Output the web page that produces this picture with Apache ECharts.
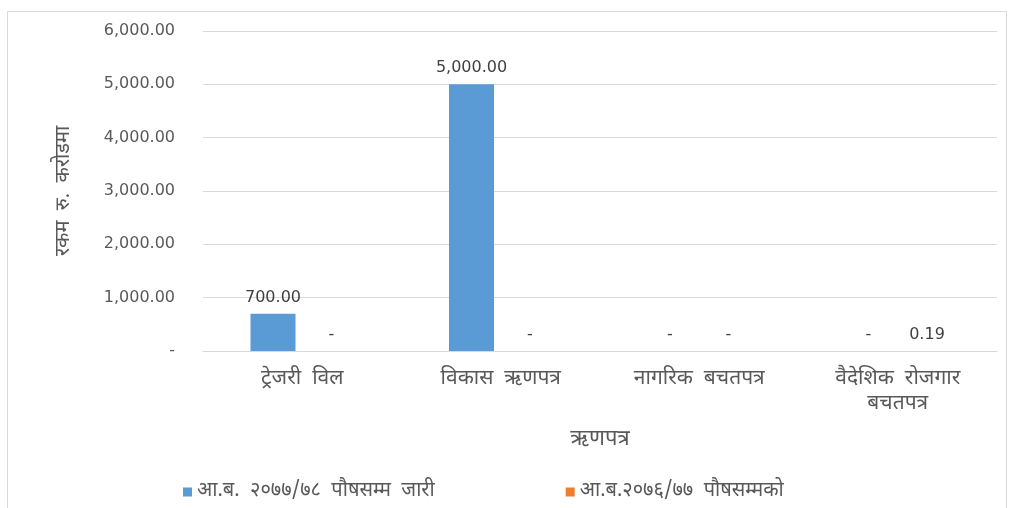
<!DOCTYPE html>
<html>
<head>
<meta charset="utf-8">
<script src="https://cdn.jsdelivr.net/npm/echarts@6/dist/echarts.min.js"></script>
<style>
html,body{margin:0;padding:0;background:#fff;}
#c{width:1010px;height:508px;}
</style>
</head>
<body>
<div id="c"></div>
<script>
const categories = ['ट्रेजरी  विल', 'विकास  ऋणपत्र', 'नागरिक  बचतपत्र', 'वैदेशिक  रोजगार\nबचतपत्र'];
const seriesNames = ['आ.ब.  २०७७/७८  पौषसम्म  जारी', 'आ.ब.२०७६/७७  पौषसम्मको'];
const issued7778 = [700, 5000, 0, 0];
const upto7677 = [0, 0, 0, 0.19];
const yTicks = [0, 1000, 2000, 3000, 4000, 5000, 6000];
const yAxisTitle = 'रकम  रु.  करोडमा';
const xAxisTitle = 'ऋणपत्र';

const fmt = v => v === 0 ? '-' : Number(v).toLocaleString('en-US', {minimumFractionDigits: 2, maximumFractionDigits: 2});
const numFont = '"DejaVu Sans", Verdana, sans-serif';
const devFont = '"Noto Sans Devanagari", "Noto Sans", "Lohit Devanagari", sans-serif';

const chart = echarts.init(document.getElementById('c'));
const labelCfg = {
  show: true, position: 'top', distance: 8, color: '#404040',
  fontFamily: numFont, fontSize: 16,
  formatter: p => fmt(p.value)
};
chart.setOption({
  animation: false,
  backgroundColor: '#fff',
  graphic: [{
    type: 'rect', shape: {x: 7.5, y: 11.5, width: 999, height: 520},
    style: {fill: 'none', stroke: '#d9d9d9', lineWidth: 1}, silent: true
  }],
  grid: {left: 203, right: 13, top: 31, bottom: 157},
  legend: {
    bottom: 1, left: 178, itemWidth: 9, itemHeight: 9, itemGap: 131,
    icon: 'rect',
    textStyle: {fontFamily: devFont, fontSize: 20, color: '#595959'},
    data: seriesNames
  },
  xAxis: {
    type: 'category', data: categories,
    axisLine: {show: true, lineStyle: {color: '#d9d9d9'}},
    axisTick: {show: false},
    axisLabel: {fontFamily: devFont, fontSize: 21, color: '#595959', margin: 17, lineHeight: 25, interval: 0},
    name: xAxisTitle, nameLocation: 'middle', nameGap: 79,
    nameTextStyle: {fontFamily: devFont, fontSize: 22, color: '#595959'}
  },
  yAxis: {
    type: 'value', min: 0, max: 6000, interval: 1000,
    axisLine: {show: false}, axisTick: {show: false},
    splitLine: {lineStyle: {color: '#d9d9d9'}},
    axisLabel: {
      fontFamily: numFont, fontSize: 16, color: '#595959', margin: 28,
      formatter: v => yTicks.includes(v) ? fmt(v) : ''
    },
    name: yAxisTitle, nameLocation: 'middle', nameGap: 128, nameRotate: 90,
    nameTextStyle: {fontFamily: devFont, fontSize: 20, color: '#595959'}
  },
  series: [
    {name: seriesNames[0], type: 'bar', data: issued7778, barWidth: 45, barGap: '30%',
     itemStyle: {color: '#5b9bd5'}, label: labelCfg},
    {name: seriesNames[1], type: 'bar', data: upto7677, barWidth: 45,
     itemStyle: {color: '#ed7d31'}, label: labelCfg}
  ]
});
</script>
</body>
</html>
